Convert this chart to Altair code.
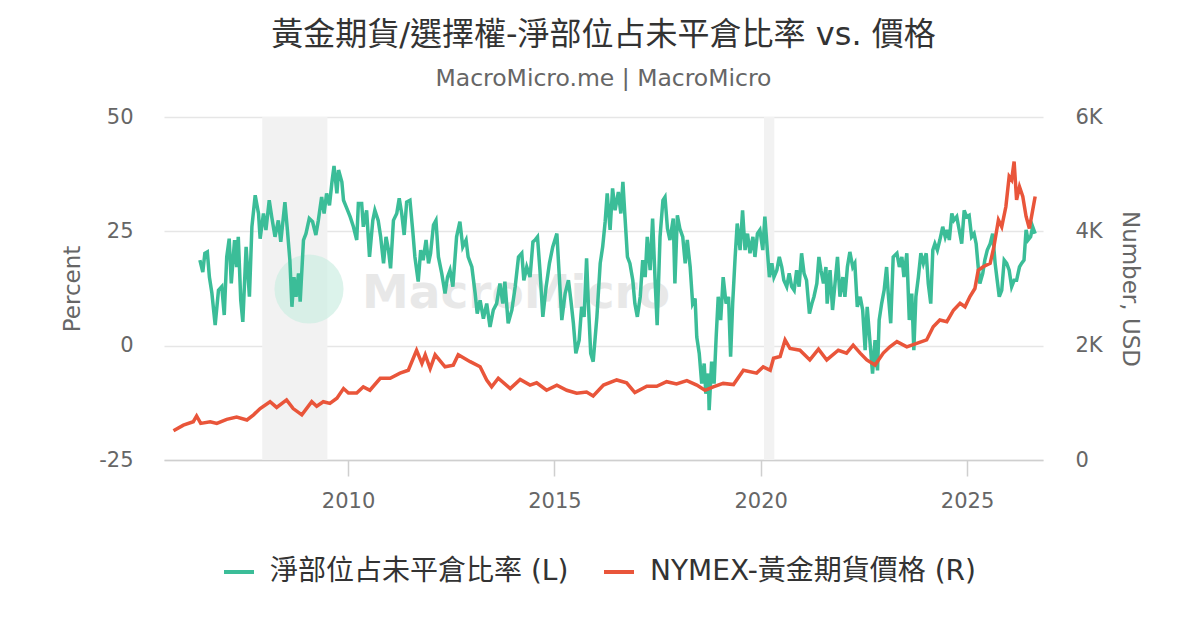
import altair as alt
import pandas as pd

TITLE = "黃金期貨/選擇權-淨部位占未平倉比率 vs. 價格"
SUBTITLE = "MacroMicro.me | MacroMicro"
SERIES = ["淨部位占未平倉比率 (L)", "NYMEX-黃金期貨價格 (R)"]
COLORS = ["#3bbd98", "#e9553a"]
FONT = "DejaVu Sans, Noto Sans CJK TC, sans-serif"

green_year = [
    2006.41, 2006.48, 2006.53, 2006.59, 2006.64, 2006.70, 2006.78, 2006.86, 2006.94, 2007.00,
    2007.06, 2007.12, 2007.17, 2007.25, 2007.30, 2007.34, 2007.40, 2007.45, 2007.53, 2007.61,
    2007.67, 2007.75, 2007.83, 2007.87, 2007.95, 2008.01, 2008.09, 2008.15, 2008.23, 2008.31,
    2008.37, 2008.47, 2008.53, 2008.59, 2008.64, 2008.69, 2008.74, 2008.80, 2008.84, 2008.92,
    2008.98, 2009.06, 2009.14, 2009.22, 2009.28, 2009.36, 2009.42, 2009.48, 2009.55, 2009.61,
    2009.66, 2009.73, 2009.77, 2009.85, 2009.89, 2009.97, 2010.05, 2010.13, 2010.21, 2010.25,
    2010.33, 2010.37, 2010.45, 2010.52, 2010.60, 2010.65, 2010.73, 2010.79, 2010.86, 2010.92,
    2010.98, 2011.03, 2011.10, 2011.18, 2011.24, 2011.30, 2011.36, 2011.42, 2011.50, 2011.57,
    2011.62, 2011.70, 2011.76, 2011.82, 2011.89, 2011.95, 2012.00, 2012.07, 2012.13, 2012.19,
    2012.27, 2012.35, 2012.41, 2012.47, 2012.54, 2012.63, 2012.71, 2012.78, 2012.86, 2012.91,
    2013.00, 2013.08, 2013.13, 2013.20, 2013.28, 2013.36, 2013.44, 2013.52, 2013.60, 2013.68,
    2013.75, 2013.80, 2013.88, 2013.97, 2014.05, 2014.13, 2014.21, 2014.26, 2014.33, 2014.41,
    2014.48, 2014.53, 2014.59, 2014.65, 2014.72, 2014.80, 2014.88, 2014.96, 2015.06, 2015.12,
    2015.18, 2015.26, 2015.34, 2015.40, 2015.46, 2015.52, 2015.60, 2015.66, 2015.72, 2015.78,
    2015.82, 2015.88, 2015.94, 2016.03, 2016.11, 2016.17, 2016.23, 2016.28, 2016.35, 2016.41,
    2016.47, 2016.55, 2016.61, 2016.66, 2016.71, 2016.77, 2016.83, 2016.90, 2016.95, 2017.01,
    2017.08, 2017.14, 2017.20, 2017.25, 2017.32, 2017.38, 2017.44, 2017.49, 2017.56, 2017.63,
    2017.68, 2017.74, 2017.80, 2017.88, 2017.92, 2017.98, 2018.04, 2018.11, 2018.17, 2018.22,
    2018.29, 2018.35, 2018.41, 2018.45, 2018.51, 2018.57, 2018.63, 2018.67, 2018.73, 2018.75,
    2018.81, 2018.87, 2018.92, 2018.97, 2019.03, 2019.09, 2019.16, 2019.22, 2019.27, 2019.32,
    2019.38, 2019.43, 2019.50, 2019.56, 2019.62, 2019.68, 2019.74, 2019.81, 2019.86, 2019.92,
    2019.98, 2020.05, 2020.10, 2020.16, 2020.21, 2020.27, 2020.32, 2020.39, 2020.45, 2020.51,
    2020.56, 2020.63, 2020.69, 2020.75, 2020.81, 2020.87, 2020.93, 2020.99, 2021.05, 2021.11,
    2021.18, 2021.24, 2021.29, 2021.36, 2021.41, 2021.46, 2021.52, 2021.58, 2021.61, 2021.68,
    2021.74, 2021.80, 2021.86, 2021.92, 2021.99, 2022.04, 2022.10, 2022.16, 2022.23, 2022.28,
    2022.34, 2022.41, 2022.47, 2022.53, 2022.58, 2022.65, 2022.71, 2022.77, 2022.83, 2022.87,
    2022.93, 2022.99, 2023.05, 2023.09, 2023.15, 2023.21, 2023.30, 2023.36, 2023.42, 2023.47,
    2023.54, 2023.60, 2023.66, 2023.71, 2023.76, 2023.82, 2023.88, 2023.94, 2024.01, 2024.06,
    2024.12, 2024.17, 2024.22, 2024.28, 2024.34, 2024.41, 2024.47, 2024.52, 2024.57, 2024.63,
    2024.68, 2024.75, 2024.81, 2024.87, 2024.93, 2024.99, 2025.05, 2025.11, 2025.17, 2025.22,
    2025.27, 2025.31, 2025.38, 2025.43, 2025.49, 2025.56, 2025.62, 2025.68, 2025.73, 2025.78,
    2025.84, 2025.90, 2025.96, 2026.02, 2026.08, 2026.14, 2026.20, 2026.27, 2026.32, 2026.38,
    2026.43, 2026.48, 2026.54, 2026.59, 2026.65,
]
green_pct = [
    18.7, 16.1, 20.2, 20.5, 15.0, 11.5, 4.5, 12.1, 12.9, 6.7,
    19.4, 23.4, 13.6, 23.1, 17.2, 23.8, 9.9, 5.2, 21.6, 10.7,
    26.0, 32.9, 28.9, 23.4, 28.9, 25.3, 31.8, 28.2, 23.8, 27.4,
    22.7, 31.4, 25.3, 18.7, 8.5, 15.0, 10.7, 15.8, 9.6, 23.1,
    24.5, 27.8, 27.1, 24.2, 27.4, 32.5, 28.9, 33.3, 30.7, 35.8,
    39.3, 33.3, 38.4, 35.8, 31.8, 30.0, 28.2, 26.0, 23.1, 31.1,
    31.1, 26.0, 29.6, 19.4, 27.4, 29.6, 27.4, 23.8, 18.0, 23.8,
    20.9, 16.9, 27.4, 28.9, 32.2, 28.9, 24.2, 31.4, 31.8, 24.9,
    19.4, 14.0, 20.9, 18.7, 23.1, 18.0, 20.2, 26.4, 27.4, 19.4,
    15.8, 11.4, 15.0, 16.5, 12.9, 23.8, 27.1, 21.6, 23.1, 19.4,
    17.2, 11.4, 7.0, 9.9, 5.9, 9.2, 4.1, 7.8, 9.2, 13.6,
    9.2, 14.0, 4.9, 7.8, 12.9, 19.4, 20.2, 14.3, 17.2, 15.0,
    22.7, 23.1, 23.8, 16.5, 6.3, 12.9, 18.0, 21.6, 24.5, 15.0,
    5.6, 11.4, 14.3, 9.9, 4.9, -1.7, 1.2, 8.5, 6.3, 19.1,
    9.9, -1.7, -3.5, 6.3, 18.0, 21.6, 27.1, 33.3, 25.3, 34.4,
    29.6, 33.6, 28.9, 35.8, 28.2, 19.4, 18.0, 14.3, 9.2, 6.3,
    10.7, 18.7, 15.0, 23.8, 16.5, 27.8, 14.3, 4.5, 23.8, 31.8,
    32.5, 25.6, 23.1, 27.8, 13.6, 28.5, 25.6, 23.8, 18.0, 23.1,
    17.2, 9.2, 10.3, 1.9, -1.7, -8.3, -3.9, -10.5, -6.1, -14.1,
    -3.5, -8.3, 1.9, 10.7, 5.6, 15.0, 9.2, 10.7, -2.4, 9.2,
    19.4, 26.7, 20.9, 29.6, 20.9, 24.5, 20.2, 23.8, 19.4, 24.5,
    25.3, 20.9, 28.2, 20.9, 15.0, 18.0, 15.0, 16.5, 19.4, 17.2,
    14.3, 12.9, 15.8, 12.9, 12.1, 16.5, 12.9, 20.2, 15.8, 14.3,
    7.0, 9.2, 10.7, 13.6, 19.4, 16.5, 13.6, 17.2, 9.2, 16.5,
    7.8, 13.6, 19.4, 10.7, 15.0, 10.7, 17.2, 20.5, 17.2, 18.0,
    8.5, 10.7, 7.8, -1.0, 8.5, 0.5, -6.1, 1.2, -5.4, 5.6,
    9.2, 12.1, 17.2, 11.4, 4.9, 19.4, 20.2, 17.2, 19.4, 15.0,
    20.2, 5.6, 11.4, -1.0, 10.7, 15.0, 20.2, 18.0, 20.2, 13.6,
    9.2, 20.9, 22.3, 20.9, 23.1, 26.0, 23.8, 25.3, 23.1, 28.9,
    27.4, 28.2, 25.3, 22.3, 29.6, 28.2, 28.5, 23.8, 24.5, 22.3,
    17.2, 13.6, 15.8, 18.7, 20.9, 22.3, 24.5, 18.0, 14.3, 10.7,
    12.1, 18.7, 18.0, 16.5, 12.9, 14.3, 14.3, 17.2, 18.0, 18.7,
    25.3, 23.1, 23.8, 26.0, 24.5,
]

price_year = [
    2005.77, 2006.01, 2006.25, 2006.33, 2006.43, 2006.66, 2006.82, 2007.06, 2007.30, 2007.55,
    2007.71, 2007.87, 2008.11, 2008.27, 2008.51, 2008.67, 2008.88, 2009.12, 2009.24, 2009.40,
    2009.56, 2009.73, 2009.89, 2010.01, 2010.21, 2010.37, 2010.53, 2010.78, 2011.02, 2011.26,
    2011.46, 2011.66, 2011.79, 2011.87, 2011.99, 2012.11, 2012.35, 2012.55, 2012.67, 2012.96,
    2013.20, 2013.36, 2013.48, 2013.64, 2013.93, 2014.17, 2014.41, 2014.57, 2014.81, 2015.06,
    2015.30, 2015.54, 2015.78, 2015.94, 2016.19, 2016.51, 2016.75, 2016.95, 2017.24, 2017.48,
    2017.72, 2017.96, 2018.21, 2018.45, 2018.65, 2018.85, 2019.09, 2019.34, 2019.58, 2019.90,
    2020.06, 2020.23, 2020.31, 2020.47, 2020.59, 2020.71, 2020.95, 2021.19, 2021.40, 2021.60,
    2021.88, 2022.08, 2022.24, 2022.41, 2022.57, 2022.77, 2022.97, 2023.13, 2023.30, 2023.54,
    2023.78, 2024.02, 2024.18, 2024.34, 2024.51, 2024.67, 2024.83, 2024.95, 2025.07, 2025.19,
    2025.27, 2025.39, 2025.56, 2025.65, 2025.76, 2025.84, 2025.94, 2026.02, 2026.08, 2026.14,
    2026.20, 2026.27, 2026.35, 2026.43, 2026.51, 2026.59, 2026.65,
]
price_usd = [
    510, 610, 670, 770, 640, 670, 640, 710, 750, 700,
    790, 900, 1020, 920, 1050, 900, 790, 1020, 940, 1020,
    990, 1080, 1250, 1170, 1170, 1280, 1220, 1430, 1430, 1520,
    1570, 1920, 1690, 1840, 1600, 1840, 1630, 1660, 1840, 1720,
    1630, 1400, 1280, 1430, 1250, 1410, 1310, 1350, 1220, 1310,
    1220, 1170, 1190, 1120, 1310, 1400, 1350, 1180, 1290, 1290,
    1370, 1330, 1390, 1310, 1220, 1280, 1340, 1320, 1570, 1520,
    1630, 1570, 1780, 1810, 2100, 1950, 1920, 1750, 1940, 1750,
    1920, 1870, 2010, 1870, 1750, 1660, 1870, 1980, 2070, 1980,
    2040, 2100, 2330, 2450, 2420, 2620, 2740, 2680, 2860, 3000,
    3320, 3380, 3440, 3730, 4200, 4080, 4430, 4960, 4900, 5220,
    4550, 4780, 4610, 4260, 4050, 4370, 4610,
]

band_start = [2007.92, 2020.08]
band_end = [2009.50, 2020.33]

x_domain = [2005.54, 2026.84]
x_ticks = [2010, 2015, 2020, 2025]
left_domain = [-25, 50]
left_ticks = [-25, 0, 25, 50]
right_domain = [0, 6000]
right_ticks = [0, 2000, 4000, 6000]

df_green = pd.DataFrame({"year": green_year, "value": green_pct, "series": SERIES[0]})
df_price = pd.DataFrame({"year": price_year, "value": price_usd, "series": SERIES[1]})
df_bands = pd.DataFrame({"start": band_start, "end": band_end})
df_one = pd.DataFrame({"k": [0]})

xscale = alt.Scale(domain=x_domain, nice=False, zero=False)
xaxis = alt.Axis(
    values=x_ticks, format="d", title=None, grid=False,
    domainColor="#cfcfcf", domainWidth=1.5, tickColor="#cfcfcf", tickWidth=1.5,
    tickSize=16, labelPadding=14, labelFontSize=21, labelColor="#666666",
)
color = alt.Color(
    "series:N",
    scale=alt.Scale(domain=SERIES, range=COLORS),
    legend=alt.Legend(
        title=None, orient="none", legendX=58, legendY=438, direction="horizontal",
        symbolType="stroke", symbolSize=900, symbolStrokeWidth=4,
        labelFontSize=28, labelColor="#333333", labelLimit=600,
        columnPadding=27, labelOffset=14,
    ),
)

bands = alt.Chart(df_bands).mark_rect(color="#f2f2f2").encode(
    x=alt.X("start:Q", scale=xscale, axis=xaxis),
    x2="end:Q",
)

logo = alt.Chart(df_one).mark_circle(color="#cdeee2", opacity=0.7, size=4778).encode(
    x=alt.value(145), y=alt.value(172)
)
logo_text = alt.Chart(df_one).mark_text(
    text="MacroMicro", fontSize=47, fontWeight="bold", color="#e8e8e8",
    align="left", baseline="alphabetic", font="DejaVu Sans",
).encode(x=alt.value(198), y=alt.value(191))

green = alt.Chart(df_green).mark_line(strokeWidth=3.5).encode(
    x=alt.X("year:Q", scale=xscale, axis=xaxis),
    y=alt.Y(
        "value:Q",
        scale=alt.Scale(domain=left_domain, nice=False, zero=False),
        axis=alt.Axis(
            orient="left", values=left_ticks, title="Percent", grid=True,
            gridColor="#e6e6e6", gridWidth=1.5, domain=False, ticks=False,
            labelPadding=31, labelFontSize=21, labelColor="#666666",
            labelExpr="datum.value < 0 ? '-' + (-datum.value) : '' + datum.value",
            titleFontSize=23, titleColor="#666666", titleFontWeight="normal",
            titlePadding=14,
        ),
    ),
    color=color,
)

price = alt.Chart(df_price).mark_line(strokeWidth=3.5).encode(
    x=alt.X("year:Q", scale=xscale, axis=xaxis),
    y=alt.Y(
        "value:Q",
        scale=alt.Scale(domain=right_domain, nice=False),
        axis=alt.Axis(
            orient="right", values=right_ticks, title="Number, USD", grid=False,
            domain=False, ticks=False, labelPadding=32, labelFontSize=21,
            labelColor="#666666",
            labelExpr="datum.value == 0 ? '0' : (datum.value / 1000) + 'K'",
            titleFontSize=23, titleColor="#666666", titleFontWeight="normal",
            titlePadding=15,
        ),
    ),
    color=color,
)

left_layer = alt.layer(bands, logo, logo_text, green)

chart = (
    alt.layer(left_layer, price)
    .resolve_scale(y="independent")
    .properties(
        width=879,
        height=343,
        autosize=alt.AutoSizeParams(type="none"),
        padding={"left": 156, "top": 109, "right": 140, "bottom": 160},
        title=alt.Title(
            TITLE, subtitle=SUBTITLE, anchor="middle", fontSize=32,
            fontWeight="normal", color="#333333", subtitleFontSize=23.5,
            subtitleColor="#666666", offset=15, subtitlePadding=15,
        ),
    )
    .configure(font=FONT)
    .configure_view(stroke=None)
)

chart.save("out.html", embed_options={"renderer": "svg", "actions": False})
